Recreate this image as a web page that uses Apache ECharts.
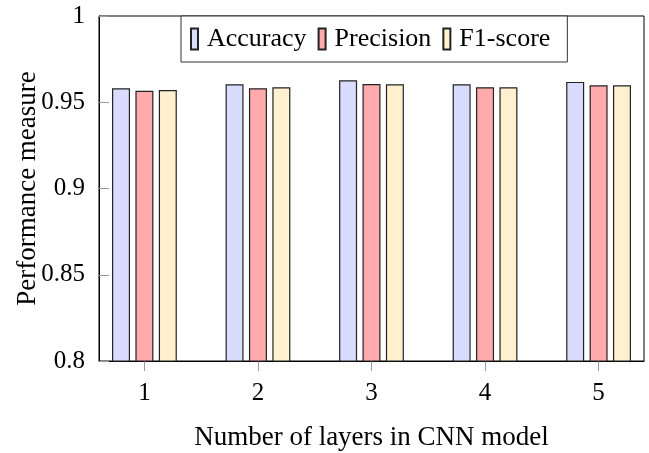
<!DOCTYPE html>
<html>
<head>
<meta charset="utf-8">
<script src="https://cdn.jsdelivr.net/npm/echarts@6/dist/echarts.min.js"></script>
<style>
html,body{margin:0;padding:0;background:#fff;}
#c{width:649px;height:453px;}
</style>
</head>
<body>
<div id="c"></div>
<script>
var categories = ['1', '2', '3', '4', '5'];
var xPositions = [1, 2, 3, 4, 5];
var seriesNames = ['Accuracy', 'Precision', 'F1-score'];
var accuracy = [0.9581, 0.9604, 0.9627, 0.9604, 0.9618];
var precision = [0.9567, 0.9581, 0.9606, 0.9587, 0.9598];
var f1score = [0.9571, 0.9587, 0.9604, 0.9587, 0.9598];
var yTicks = [0.8, 0.85, 0.9, 0.95, 1];
var xTitle = 'Number of layers in CNN model';
var yTitle = 'Performance measure';

var colors = ['#d9dbff', '#ffaaac', '#fff0cf'];
var font = 'Liberation Serif';

function pairs(vals) {
  return vals.map(function (v, i) { return [xPositions[i], v]; });
}

var chart = echarts.init(document.getElementById('c'), null, {renderer: 'canvas'});
var valuesList = [accuracy, precision, f1score];
chart.setOption({
  animation: false,
  backgroundColor: '#fff',
  textStyle: {fontFamily: font},
  grid: {left: 99, top: 16, right: 5, bottom: 92, show: true, borderColor: '#000', borderWidth: 1,
    backgroundColor: 'transparent', containLabel: false, outerBoundsMode: 'none'},
  legend: {
    left: 181, top: 16,
    padding: [10, 17, 10, 9],
    borderColor: '#333', borderWidth: 1, backgroundColor: '#fff',
    itemWidth: 7, itemHeight: 21, itemGap: 11,
    icon: 'rect',
    data: seriesNames,
    textStyle: {fontFamily: font, fontSize: 26, color: '#000', padding: [0, 0, 0, 4]}
  },
  xAxis: {
    type: 'value', min: 0.6, max: 5.4,
    name: xTitle, nameLocation: 'middle', nameGap: 63, nameMoveOverlap: false,
    nameTextStyle: {fontFamily: font, fontSize: 27, color: '#000'},
    axisLine: {show: true, lineStyle: {color: '#000', width: 1}},
    axisTick: {show: true, inside: false, length: 10, lineStyle: {color: '#999'}, customValues: xPositions},
    axisLabel: {
      show: true, fontFamily: font, fontSize: 25, color: '#000', margin: 20,
      customValues: xPositions,
      formatter: function (v) { var i = xPositions.indexOf(v); return i >= 0 ? categories[i] : ''; }
    },
    splitLine: {show: false}
  },
  yAxis: {
    type: 'value', min: 0.8, max: 1, interval: 0.05,
    name: yTitle, nameLocation: 'middle', nameGap: 58, nameMoveOverlap: false,
    nameTextStyle: {fontFamily: font, fontSize: 27, color: '#000'},
    axisLine: {show: true, lineStyle: {color: '#000', width: 1}},
    axisTick: {show: true, inside: true, length: 10, lineStyle: {color: '#999'}},
    axisLabel: {show: true, fontFamily: font, fontSize: 25, color: '#000', margin: 14,
      formatter: function (v) {
        for (var i = 0; i < yTicks.length; i++) { if (Math.abs(yTicks[i] - v) < 1e-6) return String(yTicks[i]); }
        return '';
      }},
    splitLine: {show: false}
  },
  series: seriesNames.map(function (name, k) {
    return {
      name: name, type: 'bar',
      barWidth: 18, barGap: '30%',
      data: pairs(valuesList[k]),
      itemStyle: {color: colors[k], borderColor: '#222', borderWidth: 1.2},
      emphasis: {disabled: true}
    };
  })
});
</script>
</body>
</html>
